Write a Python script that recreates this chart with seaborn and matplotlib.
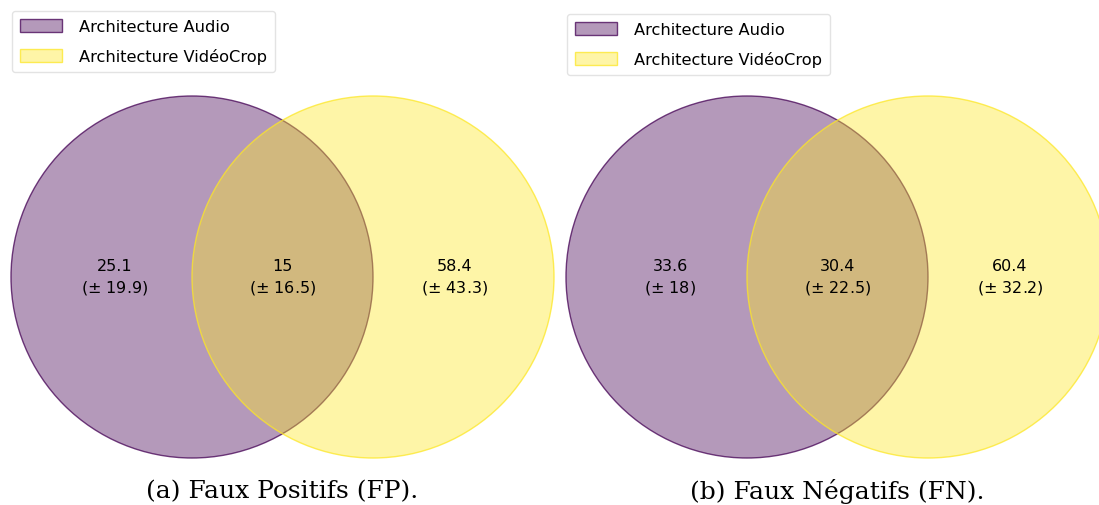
import numpy as np
import matplotlib
matplotlib.use("Agg")
import matplotlib.pyplot as plt
from matplotlib.patches import Circle
import seaborn as sns

sns.set_theme(style="white")
plt.rcParams['font.family'] = ['DejaVu Sans']
plt.rcParams['text.color'] = 'black'

# data
set_names = ["Architecture Audio", "Architecture VidéoCrop"]
captions = ["(a) Faux Positifs (FP).", "(b) Faux Négatifs (FN)."]
fp_mean = [25.1, 15, 58.4]    # audio seul, intersection, vidéo seul
fp_std = [19.9, 16.5, 43.3]
fn_mean = [33.6, 30.4, 60.4]
fn_std = [18, 22.5, 32.2]

pal = sns.color_palette("viridis", as_cmap=True)
colors = [pal(0.0), pal(1.0)]

W, H = 1099, 506
fig = plt.figure(figsize=(W / 100, H / 100), dpi=100)

R = 181  # px per unit (circle radius)
# left px of each panel (purple circle left edge), bottom px
panels = [(11, 47, fp_mean, fp_std, captions[0], (12, 12)),
          (566, 47, fn_mean, fn_std, captions[1], (567, 15))]

for left, bottom, means, stds, cap, leg_xy in panels:
    ax = fig.add_axes([left / W, bottom / H, 3 * R / W, 2 * R / H])
    ax.set_xlim(-1, 2)
    ax.set_ylim(-1, 1)
    ax.set_axis_off()
    handles = []
    for i, c in enumerate(colors):
        circ = Circle((i * 1.0, 0), 1.0, facecolor=(*c[:3], 0.4),
                      edgecolor=(*c[:3], 0.75), lw=1.0, clip_on=False)
        ax.add_patch(circ)
        handles.append(circ)
    label_x = [-0.425, 0.5, 1.453]
    for x, m, s in zip(label_x, means, stds):
        ax.text(x, 0, f"{m:g}\n($\\pm$ {s:g})", ha="center", va="center",
                fontsize=11.5, linespacing=1.3, color="black")
    # caption
    cx = (left + 1.5 * R) / W
    fig.text(cx, 14 / H, cap, ha="center", va="center", fontsize=18,
             family="DejaVu Serif", color="black")
    fig.legend(handles, set_names, loc="upper left",
               bbox_to_anchor=(leg_xy[0] / W, 1 - leg_xy[1] / H),
               borderaxespad=0, fontsize=11.7, frameon=True,
               handlelength=2.6, handleheight=0.85, handletextpad=1.0,
               labelspacing=0.85, borderpad=0.5,
               edgecolor="#dddddd", fancybox=True)

fig.savefig("out.png", dpi=100)
